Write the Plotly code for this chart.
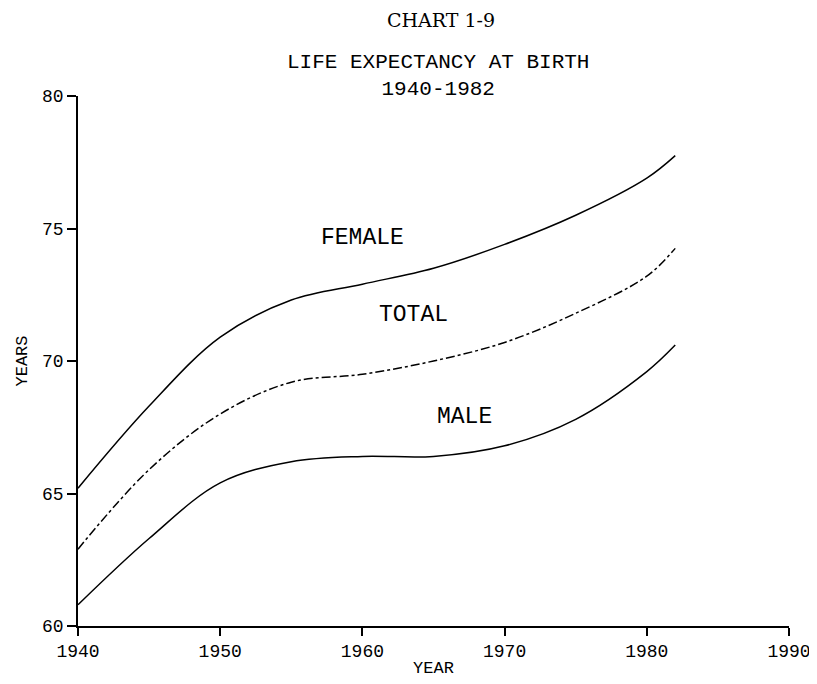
import plotly.graph_objects as go

# ---- data ----
years = [1940, 1945, 1950, 1955, 1960, 1965, 1970, 1975, 1980, 1982]
female = [65.2, 68.3, 70.9, 72.3, 72.9, 73.5, 74.4, 75.5, 76.9, 77.75]
total = [62.9, 65.9, 68.0, 69.2, 69.5, 70.0, 70.7, 71.8, 73.2, 74.25]
male = [60.8, 63.3, 65.4, 66.2, 66.4, 66.4, 66.8, 67.8, 69.6, 70.6]

x_ticks = [1940, 1950, 1960, 1970, 1980, 1990]
y_ticks = [60, 65, 70, 75, 80]

series_labels = ["FEMALE", "TOTAL", "MALE"]
label_x = [1960.0, 1963.6, 1967.2]
label_y = [74.65, 71.72, 67.87]

# ---- layout geometry ----
W, H = 817, 684
ML, MR, MT, MB = 70, 36, 88, 66
PW, PH = W - ML - MR, H - MT - MB


def px_x(px):
    return (px - ML) / PW


def px_y(py):
    return (H - MB - py) / PH


mono = "Liberation Mono"
line_style = dict(color="black", width=1.5, shape="spline", smoothing=1.0)

fig = go.Figure()
fig.add_trace(go.Scatter(x=years, y=female, mode="lines", name="FEMALE",
                         line=dict(**line_style)))
fig.add_trace(go.Scatter(x=years, y=total, mode="lines", name="TOTAL",
                         line=dict(**line_style, dash="dashdot")))
fig.add_trace(go.Scatter(x=years, y=male, mode="lines", name="MALE",
                         line=dict(**line_style)))

annotations = []
for txt, lx, ly in zip(series_labels, label_x, label_y):
    annotations.append(dict(x=lx, y=ly, xref="x", yref="y", text=txt,
                            showarrow=False, xanchor="center", yanchor="middle",
                            font=dict(family=mono, size=23, color="black")))

annotations += [
    dict(x=px_x(433), y=px_y(12), xref="paper", yref="paper", text="CHART 1-9",
         showarrow=False, xanchor="center", yanchor="middle",
         font=dict(family="DejaVu Serif", size=19, color="black")),
    dict(x=px_x(430), y=px_y(68), xref="paper", yref="paper",
         text="LIFE EXPECTANCY AT BIRTH<br>1940-1982", showarrow=False,
         xanchor="center", yanchor="middle", align="center",
         font=dict(family=mono, size=21, color="black")),
]

fig.update_layout(
    width=W, height=H,
    margin=dict(l=ML, r=MR, t=MT, b=MB, autoexpand=False),
    paper_bgcolor="white", plot_bgcolor="white",
    showlegend=False,
    annotations=annotations,
    xaxis=dict(
        range=[1940, 1990], tickvals=x_ticks, ticktext=[str(v) for v in x_ticks],
        showline=True, linecolor="black", linewidth=1.5,
        ticks="outside", ticklen=8, tickwidth=1.5, tickcolor="black",
        showgrid=False, zeroline=False,
        tickfont=dict(family=mono, size=18, color="black"),
        title=dict(text="YEAR", font=dict(family=mono, size=17, color="black"),
                   standoff=0),
    ),
    yaxis=dict(
        range=[60, 80], tickvals=y_ticks, ticktext=[str(v) for v in y_ticks],
        showline=True, linecolor="black", linewidth=1.5,
        ticks="outside", ticklen=9, tickwidth=1.5, tickcolor="black",
        showgrid=False, zeroline=False,
        tickfont=dict(family=mono, size=18, color="black"),
        title=dict(text="YEARS", font=dict(family=mono, size=17, color="black"),
                   standoff=10),
    ),
)

fig.write_html("out.html")
